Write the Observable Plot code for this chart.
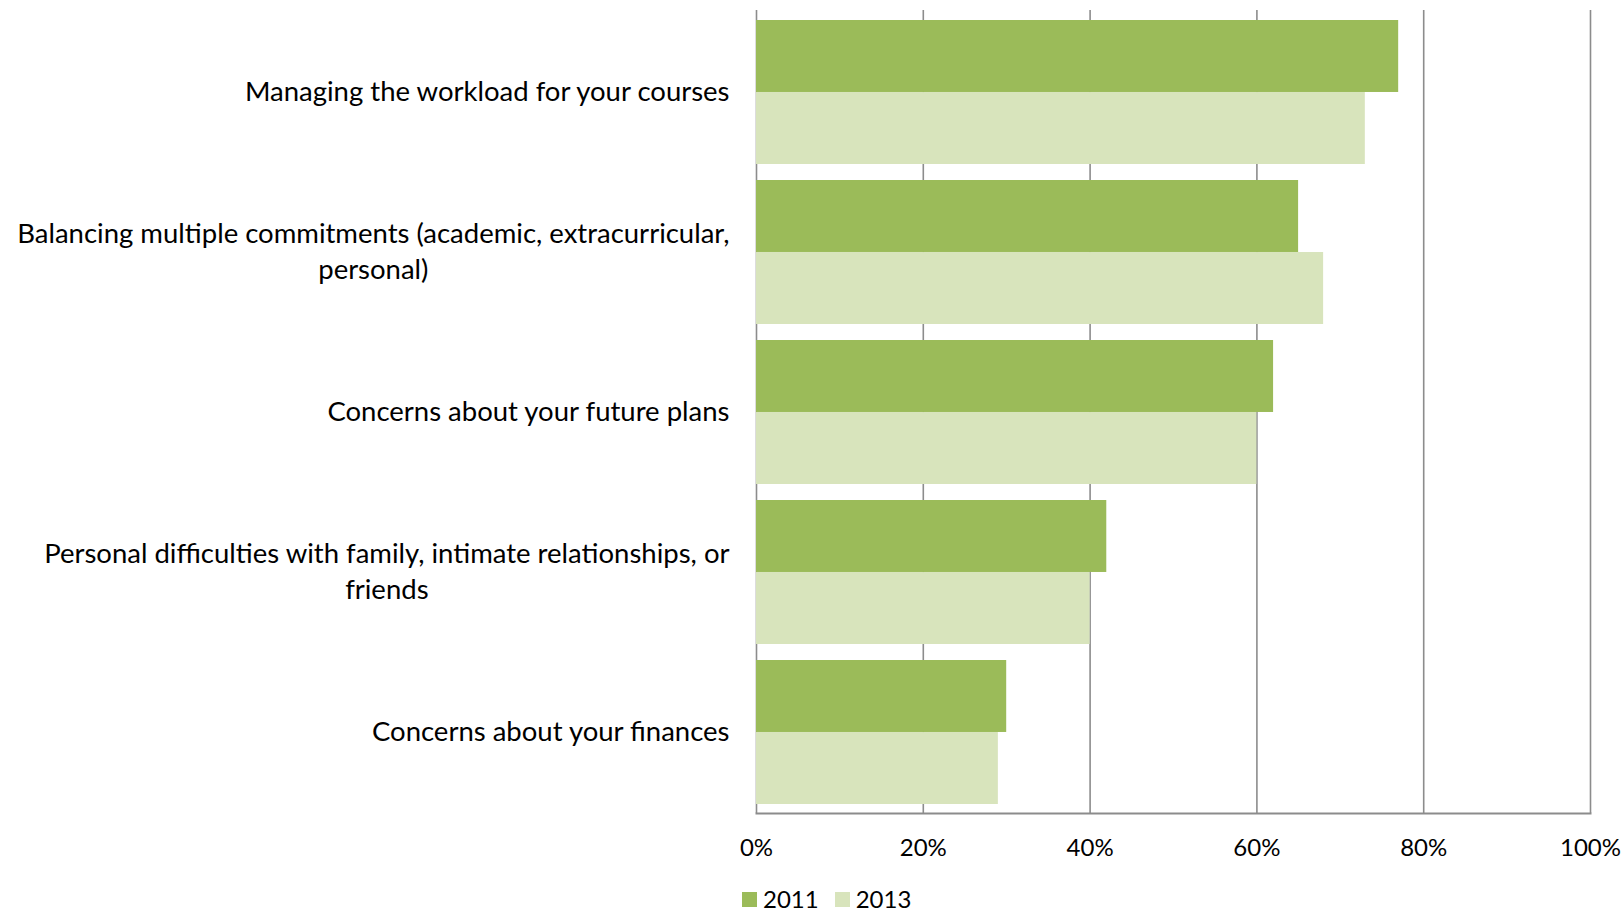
<!DOCTYPE html>
<html>
<head>
<meta charset="utf-8">
<script src="https://cdn.jsdelivr.net/npm/d3@7"></script>
<script src="https://cdn.jsdelivr.net/npm/@observablehq/plot@0.6"></script>
<style>
  html, body { margin: 0; padding: 0; background: #fff; }
  #wrap { position: relative; width: 1623px; height: 914px; overflow: hidden; font-family: Lato, sans-serif; }
  #legend { position: absolute; left: 742px; top: 887px; display: flex; align-items: center; font-size: 24px; color: #000; line-height: 1; }
  .item { display: flex; align-items: center; margin-right: 16px; }
  .sw { width: 15px; height: 15px; margin-right: 6px; }
</style>
</head>
<body>
<div id="wrap"><div id="chart"></div><div id="legend"></div></div>
<script>
const categories = [
  "Managing the workload for your courses",
  "Balancing multiple commitments (academic, extracurricular, personal)",
  "Concerns about your future plans",
  "Personal difficulties with family, intimate relationships, or friends",
  "Concerns about your finances"
];
const tickLabels = [
  "Managing the workload for your courses",
  "Balancing multiple commitments (academic, extracurricular,\npersonal)",
  "Concerns about your future plans",
  "Personal difficulties with family, intimate relationships, or\nfriends",
  "Concerns about your finances"
];
const series = ["2011", "2013"];
const values2011 = [77, 65, 62, 42, 30];
const values2013 = [73, 68, 60, 40, 29];
const xTicks = [0, 20, 40, 60, 80, 100];
const colors = ["#9BBB59", "#D8E4BC"];

const data = categories.map((c, i) => ({category: c, v2011: values2011[i], v2013: values2013[i]}));

const W = 1623, H = 880, mT = 10, mB = 67, mL = 756, mR = 33;
const padIn = 0.103, padOut = 0.0515;
const band = d3.scaleBand(categories, [mT, H - mB]).paddingInner(padIn).paddingOuter(padOut);
const half = band.bandwidth() / 2;

const plot = Plot.plot({
  width: W, height: H,
  marginTop: mT, marginBottom: mB, marginLeft: mL, marginRight: mR,
  style: {fontFamily: "Lato, sans-serif", color: "#000", background: "#fff"},
  x: {domain: [0, 100], label: null},
  y: {domain: categories, paddingInner: padIn, paddingOuter: padOut, label: null},
  marks: [
    Plot.ruleX(xTicks, {stroke: "#8c8c8c", strokeWidth: 1.6}),
    Plot.frame({anchor: "bottom", stroke: "#8c8c8c", strokeWidth: 2}),
    Plot.barX(data, {x: "v2011", y: "category", fill: colors[0], insetBottom: half}),
    Plot.barX(data, {x: "v2013", y: "category", fill: colors[1], insetTop: half}),
    Plot.axisX({ticks: xTicks, tickSize: 0, tickPadding: 25, fontSize: 24, label: null, tickFormat: d => d + "%"}),
    Plot.axisY({tickSize: 0, tickPadding: 27, fontSize: 27.5, lineHeight: 1.3, dy: -3, label: null, tickFormat: d => tickLabels[categories.indexOf(d)]})
  ]
});
document.getElementById("chart").appendChild(plot);

// center multi-line labels like the original (block right-aligned, lines centered)
plot.querySelectorAll("text").forEach(t => {
  const spans = t.querySelectorAll("tspan");
  if (spans.length > 1) {
    let w = 0;
    spans.forEach(s => { w = Math.max(w, s.getComputedTextLength()); });
    t.setAttribute("text-anchor", "middle");
    spans.forEach(s => s.setAttribute("x", -w / 2));
  }
});

const legend = document.getElementById("legend");
series.forEach((s, i) => {
  const it = document.createElement("div");
  it.className = "item";
  it.innerHTML = `<div class="sw" style="background:${colors[i]}"></div><span>${s}</span>`;
  legend.appendChild(it);
});
</script>
</body>
</html>
